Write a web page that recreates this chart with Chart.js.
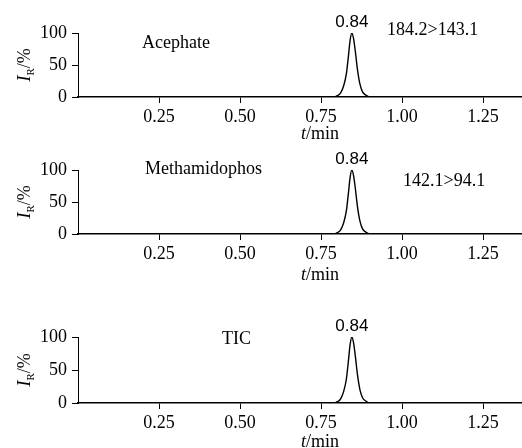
<!DOCTYPE html>
<html>
<head>
<meta charset="utf-8">
<script src="https://cdn.jsdelivr.net/npm/chart.js@4.4.0/dist/chart.umd.min.js"></script>
<style>
  body { margin: 0; background: #fff; }
  #wrap { position: relative; width: 522px; height: 448px; }
  canvas { position: absolute; left: 0; }
</style>
</head>
<body>
<div id="wrap">
  <canvas id="p1" width="522" height="150" style="top:0px"></canvas>
  <canvas id="p2" width="522" height="150" style="top:150px"></canvas>
  <canvas id="p3" width="522" height="148" style="top:300px"></canvas>
</div>
<script>
// retention time axis (min) and relative intensity (%)
var timeMin = [0, 0.79, 0.80, 0.81, 0.82, 0.828, 0.834, 0.840, 0.845, 0.850, 0.856, 0.862, 0.870, 0.878, 0.888, 0.90, 1.37];
var acephate = [0, 0, 2, 6, 18, 36, 62, 90, 100, 92, 70, 44, 20, 8, 3, 0, 0];
var methamidophos = [0, 0, 2, 6, 18, 36, 62, 90, 100, 92, 70, 44, 20, 8, 3, 0, 0];
var tic = [0, 0, 2, 6, 18, 36, 62, 90, 100, 92, 70, 44, 20, 8, 3, 0, 0];
var xTicks = [0.25, 0.50, 0.75, 1.00, 1.25];
var yTicks = [0, 50, 100];
var peakTime = 0.84;

var serif = '"Liberation Serif", "Times New Roman", serif';
var sans = '"Liberation Sans", Arial, sans-serif';

function toPoints(xs, ys) {
  var pts = [];
  for (var i = 0; i < xs.length; i++) pts.push({ x: xs[i], y: ys[i] });
  return pts;
}

// draws the axis titles and the little text labels
function textPlugin(p) {
  return {
    id: 'panelText',
    afterDraw: function (chart) {
      var ctx = chart.ctx;
      var a = chart.chartArea;
      var xs = chart.scales.x, ys = chart.scales.y;
      ctx.save();
      ctx.fillStyle = '#000';
      ctx.textBaseline = 'alphabetic';

      // y title: I_R/%
      ctx.save();
      ctx.translate(30, (a.top + a.bottom) / 2);
      ctx.rotate(-Math.PI / 2);
      ctx.font = 'italic 19px ' + serif;
      var wI = ctx.measureText('I').width;
      ctx.font = '11px ' + serif;
      var wR = ctx.measureText('R').width;
      ctx.font = '18px ' + serif;
      var wP = ctx.measureText('/%').width;
      var sx = -(wI + wR + wP) / 2;
      ctx.font = 'italic 19px ' + serif;
      ctx.fillText('I', sx, 0);
      ctx.font = '11px ' + serif;
      ctx.fillText('R', sx + wI, 4);
      ctx.font = '18px ' + serif;
      ctx.fillText('/%', sx + wI + wR, 0);
      ctx.restore();

      // x title: t/min
      ctx.font = 'italic 18px ' + serif;
      var wt = ctx.measureText('t').width;
      ctx.font = '18px ' + serif;
      var wm = ctx.measureText('/min').width;
      var tx = 320 - (wt + wm) / 2;
      var ty = a.bottom + p.titleGap;
      ctx.font = 'italic 18px ' + serif;
      ctx.fillText('t', tx, ty);
      ctx.font = '18px ' + serif;
      ctx.fillText('/min', tx + wt, ty);

      // peak label
      ctx.font = '17px ' + sans;
      ctx.textAlign = 'center';
      ctx.fillText(peakTime.toFixed(2), xs.getPixelForValue(0.845), ys.getPixelForValue(100) - 6);

      // compound and transition
      ctx.textAlign = 'left';
      ctx.font = '18px ' + serif;
      ctx.fillText(p.name, p.nameX, p.nameY);
      if (p.trans) ctx.fillText(p.trans, p.transX, p.transY);
      ctx.restore();
    }
  };
}

function makePanel(id, p) {
  new Chart(document.getElementById(id), {
    type: 'scatter',
    data: {
      datasets: [{
        data: toPoints(timeMin, p.values),
        showLine: true,
        borderColor: '#000',
        borderWidth: 1.4,
        pointRadius: 0,
        cubicInterpolationMode: 'monotone'
      }]
    },
    options: {
      responsive: false,
      animation: false,
      layout: { padding: { top: p.top, left: 0, right: 0, bottom: 0 } },
      plugins: { legend: { display: false }, tooltip: { enabled: false } },
      scales: {
        x: {
          type: 'linear',
          min: 0,
          max: 1.37,
          afterFit: function (s) { s.height = p.xh; },
          afterBuildTicks: function (s) { s.ticks = xTicks.map(function (v) { return { value: v }; }); },
          ticks: {
            color: '#000',
            padding: 3,
            maxRotation: 0,
            font: { family: serif, size: 18 },
            callback: function (v) { return Number(v).toFixed(2); }
          },
          grid: { display: true, drawOnChartArea: false, drawTicks: true, tickLength: 6, color: '#000', lineWidth: 1 },
          border: { display: true, color: '#000', width: 1.5 }
        },
        y: {
          min: 0,
          max: 100,
          afterFit: function (s) { s.width = 78; },
          afterBuildTicks: function (s) { s.ticks = yTicks.map(function (v) { return { value: v }; }); },
          ticks: {
            color: '#000',
            padding: 5,
            font: { family: serif, size: 18 }
          },
          grid: { display: true, drawOnChartArea: false, drawTicks: true, tickLength: 6, color: '#000', lineWidth: 1 },
          border: { display: true, color: '#000', width: 1 }
        }
      }
    },
    plugins: [textPlugin(p)]
  });
}

makePanel('p1', { values: acephate, top: 33, xh: 53, titleGap: 42,
  name: 'Acephate', nameX: 142, nameY: 48, trans: '184.2>143.1', transX: 387, transY: 35 });
makePanel('p2', { values: methamidophos, top: 20, xh: 66, titleGap: 46,
  name: 'Methamidophos', nameX: 145, nameY: 24, trans: '142.1>94.1', transX: 403, transY: 36 });
makePanel('p3', { values: tic, top: 37, xh: 45, titleGap: 44,
  name: 'TIC', nameX: 222, nameY: 44, trans: '', transX: 0, transY: 0 });
</script>
</body>
</html>
